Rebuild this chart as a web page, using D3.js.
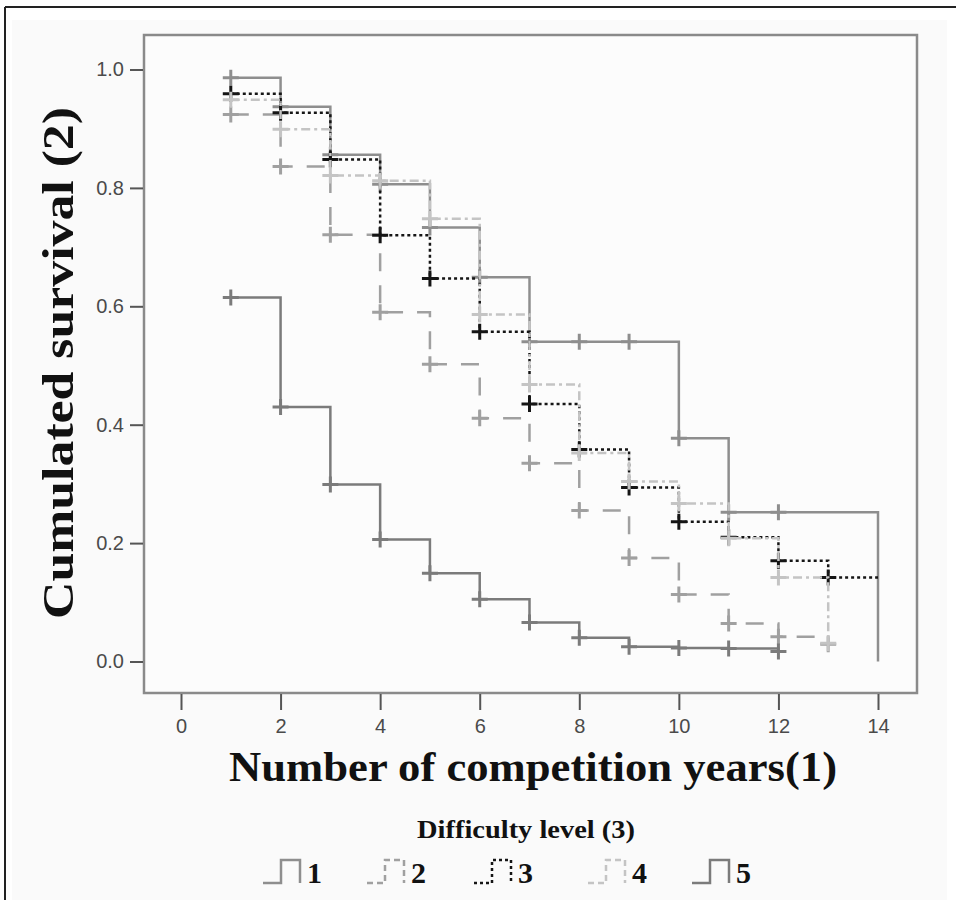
<!DOCTYPE html>
<html>
<head>
<meta charset="utf-8">
<script src="https://cdn.jsdelivr.net/npm/d3@7"></script>
<style>
  body { margin: 0; background: #fff; }
  .tick text { font-family: "Liberation Sans", Arial, sans-serif; font-size: 20px; fill: #4a4a4a; }
  .tick line { stroke: #555; stroke-width: 2; }
</style>
</head>
<body>
<script>
// survival per difficulty level
var years1 = [1, 2, 3, 4, 5, 6, 7, 8, 9, 10, 11, 12, 14];
var surv1  = [0.986, 0.937, 0.856, 0.806, 0.733, 0.649, 0.540, 0.540, 0.540, 0.377, 0.252, 0.252, 0.0];

var years2 = [1, 2, 3, 4, 5, 6, 7, 8, 9, 10, 11, 12, 13];
var surv2  = [0.924, 0.836, 0.721, 0.590, 0.502, 0.411, 0.335, 0.255, 0.175, 0.113, 0.064, 0.042, 0.029];

var years3 = [1, 2, 3, 4, 5, 6, 7, 8, 9, 10, 11, 12, 13, 14];
var surv3  = [0.959, 0.927, 0.848, 0.720, 0.647, 0.557, 0.435, 0.358, 0.294, 0.236, 0.210, 0.170, 0.142, 0.142];

var years4 = [1, 2, 3, 4, 5, 6, 7, 8, 9, 10, 11, 12, 13];
var surv4  = [0.949, 0.899, 0.821, 0.812, 0.748, 0.586, 0.468, 0.352, 0.304, 0.267, 0.208, 0.142, 0.031];

var years5 = [1, 2, 3, 4, 5, 6, 7, 8, 9, 10, 11, 12];
var surv5  = [0.615, 0.430, 0.299, 0.206, 0.149, 0.105, 0.066, 0.040, 0.025, 0.023, 0.022, 0.017];

var levelNames = ["1", "2", "3", "4", "5"];
var xTicks = [0, 2, 4, 6, 8, 10, 12, 14];
var yTicks = [0.0, 0.2, 0.4, 0.6, 0.8, 1.0];

// the last point of level 1 and 3 is just the end of the line, no censor mark
var series = [
  {name: levelNames[0], x: years1, y: surv1, color: "#8e8e8e", dash: null, legendDash: null, markLast: false},
  {name: levelNames[1], x: years2, y: surv2, color: "#a0a0a0", dash: "18,14", legendDash: "6,4", markLast: true},
  {name: levelNames[2], x: years3, y: surv3, color: "#151515", dash: "3,3", legendDash: "3,3", markLast: false},
  {name: levelNames[3], x: years4, y: surv4, color: "#c4c4c4", dash: "9,4,3,4", legendDash: "6,4", markLast: true},
  {name: levelNames[4], x: years5, y: surv5, color: "#7b7b7b", dash: null, legendDash: null, markLast: true}
];

var width = 956, height = 900;
var serif = "Liberation Serif, Times New Roman, serif";

var svg = d3.select("body").append("svg")
    .attr("width", width)
    .attr("height", height);

// paper + frame
svg.append("rect")
    .attr("x", 12).attr("y", 20)
    .attr("width", 935).attr("height", 880)
    .attr("fill", "#fafafa");
svg.append("line")
    .attr("x1", 5).attr("y1", 7).attr("x2", 956).attr("y2", 7)
    .attr("stroke", "#222").attr("stroke-width", 2);
svg.append("line")
    .attr("x1", 5).attr("y1", 7).attr("x2", 5).attr("y2", 900)
    .attr("stroke", "#222").attr("stroke-width", 2);

var plot = {left: 144, top: 35, right: 917, bottom: 693};

var x = d3.scaleLinear()
    .domain([0, 14])
    .range([181, 878]);

var y = d3.scaleLinear()
    .domain([0, 1])
    .range([661.5, 69.5]);

svg.append("rect")
    .attr("x", plot.left).attr("y", plot.top)
    .attr("width", plot.right - plot.left)
    .attr("height", plot.bottom - plot.top)
    .attr("fill", "#fcfcfc")
    .attr("stroke", "#8a8a8a")
    .attr("stroke-width", 2.5);

var gy = svg.append("g")
    .attr("transform", "translate(" + (plot.left - 1) + ",0)")
    .call(d3.axisLeft(y).tickValues(yTicks).tickFormat(d3.format(".1f")).tickSize(13).tickPadding(6));
gy.select(".domain").remove();

var gx = svg.append("g")
    .attr("transform", "translate(0," + (plot.bottom + 1) + ")")
    .call(d3.axisBottom(x).tickValues(xTicks).tickSize(16).tickPadding(9));
gx.select(".domain").remove();

// step curves
var line = d3.line()
    .x(function(d) { return x(d[0]); })
    .y(function(d) { return y(d[1]); })
    .curve(d3.curveStepAfter);

series.forEach(function(s) {
  var pts = s.x.map(function(v, i) { return [v, s.y[i]]; });

  svg.append("path")
      .datum(pts)
      .attr("d", line)
      .attr("fill", "none")
      .attr("stroke", s.color)
      .attr("stroke-width", 2.5)
      .attr("stroke-dasharray", s.dash);

  var marks = s.markLast ? pts : pts.slice(0, -1);
  svg.append("g").selectAll("path")
    .data(marks)
    .enter().append("path")
      .attr("d", function(d) {
        var cx = x(d[0]), cy = y(d[1]);
        return "M" + (cx - 8) + "," + cy + "H" + (cx + 8) + "M" + cx + "," + (cy - 8) + "V" + (cy + 8);
      })
      .attr("stroke", s.color)
      .attr("stroke-width", 3);
});

// titles
svg.append("text")
    .attr("transform", "translate(73,363) rotate(-90)")
    .attr("text-anchor", "middle")
    .attr("font-family", serif)
    .attr("font-weight", "bold")
    .attr("font-size", 45)
    .attr("textLength", 512)
    .attr("lengthAdjust", "spacingAndGlyphs")
    .attr("fill", "#111")
    .text("Cumulated survival (2)");

svg.append("text")
    .attr("x", 533).attr("y", 781)
    .attr("text-anchor", "middle")
    .attr("font-family", serif)
    .attr("font-weight", "bold")
    .attr("font-size", 43)
    .attr("textLength", 608)
    .attr("lengthAdjust", "spacingAndGlyphs")
    .attr("fill", "#111")
    .text("Number of competition years(1)");

// legend
svg.append("text")
    .attr("x", 526).attr("y", 838)
    .attr("text-anchor", "middle")
    .attr("font-family", serif)
    .attr("font-weight", "bold")
    .attr("font-size", 25)
    .attr("textLength", 218)
    .attr("lengthAdjust", "spacingAndGlyphs")
    .attr("fill", "#111")
    .text("Difficulty level (3)");

var legendX = [263, 367, 474, 588, 692];

var item = svg.append("g").selectAll("g")
    .data(series)
    .enter().append("g")
      .attr("transform", function(d, i) { return "translate(" + legendX[i] + ",0)"; });

item.append("path")
    .attr("d", "M0,883H18V860H37V883")
    .attr("fill", "none")
    .attr("stroke", function(d) { return d.color; })
    .attr("stroke-width", 2.5)
    .attr("stroke-dasharray", function(d) { return d.legendDash; });

item.append("text")
    .attr("x", 44).attr("y", 883)
    .attr("font-family", serif)
    .attr("font-weight", "bold")
    .attr("font-size", 30)
    .attr("fill", "#111")
    .text(function(d) { return d.name; });
</script>
</body>
</html>
